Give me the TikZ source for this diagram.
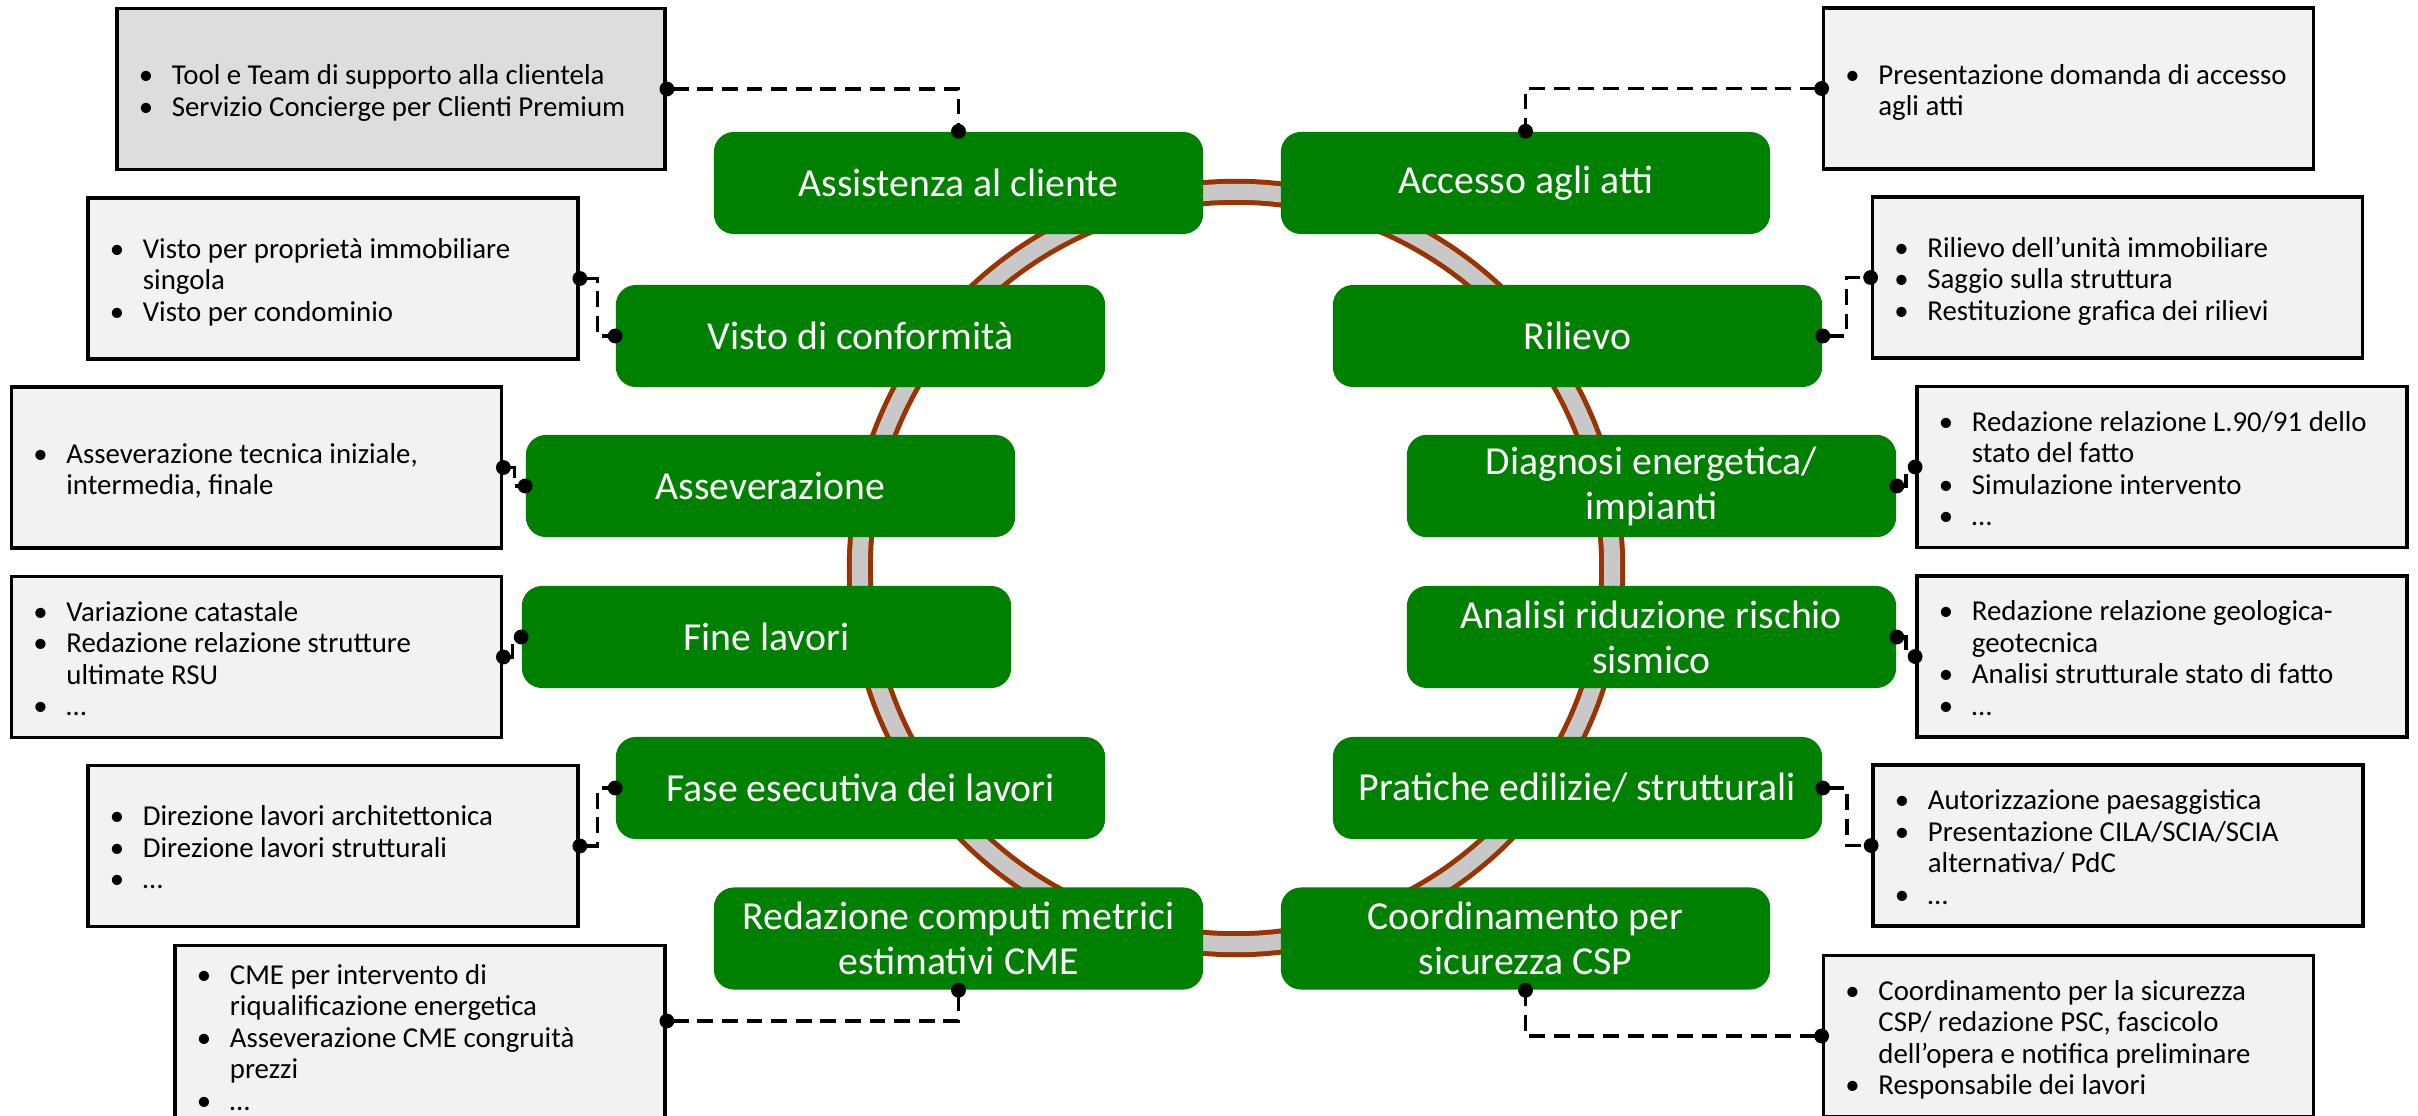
\documentclass[tikz,border=0pt]{standalone}
\usepackage{fontspec}
\setmainfont{Carlito}
\usetikzlibrary{arrows.meta, calc}

\definecolor{stagegreen}{RGB}{0,128,0}
\definecolor{notegray}{RGB}{242,242,242}
\definecolor{notedark}{RGB}{221,221,221}
\definecolor{ringbrown}{RGB}{153,51,0}
\definecolor{ringgray}{RGB}{200,200,200}

\newcommand{\stagefont}{\fontsize{11.3}{12.8}\selectfont}
\newcommand{\notefont}{\fontsize{8.2}{8.96}\selectfont}
% bullet column and text column of a note
\newcommand{\bullets}[2][4.2cm]{\raisebox{-0.05cm}[\height][\depth]{\begin{tabular}{@{\hspace{0.07cm}}p{0.33cm}@{}p{#1}@{}}#2\end{tabular}}}
\newcommand{\bul}{\textbullet &}

\begin{document}
\begin{tikzpicture}[
                x=0.01cm, y=-0.01cm,
                >={Circle[length=4.2pt]},
                stage/.style={rectangle, rounded corners=0.2cm, fill=stagegreen, text=white, minimum width=4.89cm, minimum height=1.02cm, align=center, font=\stagefont},
                note/.style={rectangle, draw=black, line width=1pt, fill=notegray, minimum height=1.61cm, inner xsep=0.15cm, font=\notefont},
                link/.style={<->, dash pattern=on 4.5pt off 2.5pt, line width=0.9pt, shorten >=-2.1pt, shorten <=-2.1pt},
                elbow/.style={to path={-| ($(\tikztostart)!0.5!(\tikztotarget)$) |- (\tikztotarget)}},
            ]
                \useasboundingbox (0,0) rectangle (2418,1115);

                % Draw the ring behind the stages
                \coordinate (hub) at (1236,568);
                \draw[ringbrown, line width=0.26cm] (hub) circle[radius=3.76cm];
                \draw[ringgray, line width=0.16cm] (hub) circle[radius=3.76cm];

                % Draw the stage boxes
                \foreach \name/\x/\y/\txt in {
                    assist/958.5/183/{Assistenza al cliente},
                    visto/860.5/336/{Visto di conformità},
                    assev/770.5/486/{Asseverazione},
                    fine/766.5/637/{Fine lavori},
                    fase/860.5/788/{Fase esecutiva dei lavori},
                    computi/958.5/938.5/{Redazione computi metrici\\estimativi CME},
                    accesso/1525.5/183/{Accesso agli atti},
                    rilievo/1577.5/336/{Rilievo},
                    diagnosi/1651.5/486/{Diagnosi energetica/\\impianti},
                    analisi/1651.5/637/{Analisi riduzione rischio\\sismico},
                    pratiche/1577.5/788/{Pratiche edilizie/ strutturali},
                    coord/1525.5/938.5/{Coordinamento per\\sicurezza CSP}}
                    \node[stage] (\name) at (\x,\y) {\txt};

                % Draw the notes on the left
                \node[note, fill=notedark] (assistnote) at (391,89) {\bullets[4.78cm]{
                    \bul Tool e Team di supporto alla clientela \\ \bul Servizio Concierge per Clienti Premium}};
                \node[note] (vistonote) at (333,278.5) {\bullets{
                    \bul Visto per proprietà immobiliare \\ & singola \\ \bul Visto per condominio}};
                \node[note] (assevnote) at (256.5,467.5) {\bullets{
                    \bul Asseverazione tecnica iniziale, \\ & intermedia, finale}};
                \node[note] (finenote) at (256.5,657) {\bullets{
                    \bul Variazione catastale \\ \bul Redazione relazione strutture \\ & ultimate RSU \\ \bul …}};
                \node[note] (fasenote) at (333,846) {\bullets{
                    \bul Direzione lavori architettonica \\ \bul Direzione lavori strutturali \\ \bul …}};
                \node[note] (cmenote) at (420,1036) {\bullets{
                    \bul CME per intervento di \\ & riqualificazione energetica \\ \bul Asseverazione CME congruità \\ & prezzi \\ \bul …}};

                % Draw the notes on the right
                \node[note] (accessonote) at (2068.5,88.5) {\bullets{
                    \bul Presentazione domanda di accesso \\ & agli atti}};
                \node[note] (rilievonote) at (2117.5,277.5) {\bullets{
                    \bul Rilievo dell’unità immobiliare \\ \bul Saggio sulla struttura \\ \bul Restituzione grafica dei rilievi}};
                \node[note] (diagnote) at (2162,467) {\bullets{
                    \bul Redazione relazione L.90/91 dello \\ & stato del fatto \\ \bul Simulazione intervento \\ \bul …}};
                \node[note] (sismanote) at (2162,656.5) {\bullets{
                    \bul Redazione relazione geologica- \\ & geotecnica \\ \bul Analisi strutturale stato di fatto \\ \bul …}};
                \node[note] (pratnote) at (2118,845.5) {\bullets{
                    \bul Autorizzazione paesaggistica \\ \bul Presentazione CILA/SCIA/SCIA \\ & alternativa/ PdC \\ \bul …}};
                \node[note] (cspnote) at (2068.5,1036) {\bullets{
                    \bul Coordinamento per la sicurezza \\ & CSP/ redazione PSC, fascicolo \\ & dell’opera e notifica preliminare \\ \bul Responsabile dei lavori}};

                % Connect every note with its stage
                \foreach \source/\dest in {vistonote/visto, assevnote/assev, finenote/fine, fasenote/fase,
                                           rilievo/rilievonote, diagnosi/diagnote, analisi/sismanote, pratiche/pratnote}
                    \draw[link] (\source.east) to[elbow] (\dest.west);
                \draw[link] (assistnote.east) -| (assist.north);
                \draw[link] (accessonote.west) -| (accesso.north);
                \draw[link] ([yshift=0.15cm]cmenote.east) -| (computi.south);
                \draw[link] (cspnote.west) -| (coord.south);
            \end{tikzpicture}
\end{document}
